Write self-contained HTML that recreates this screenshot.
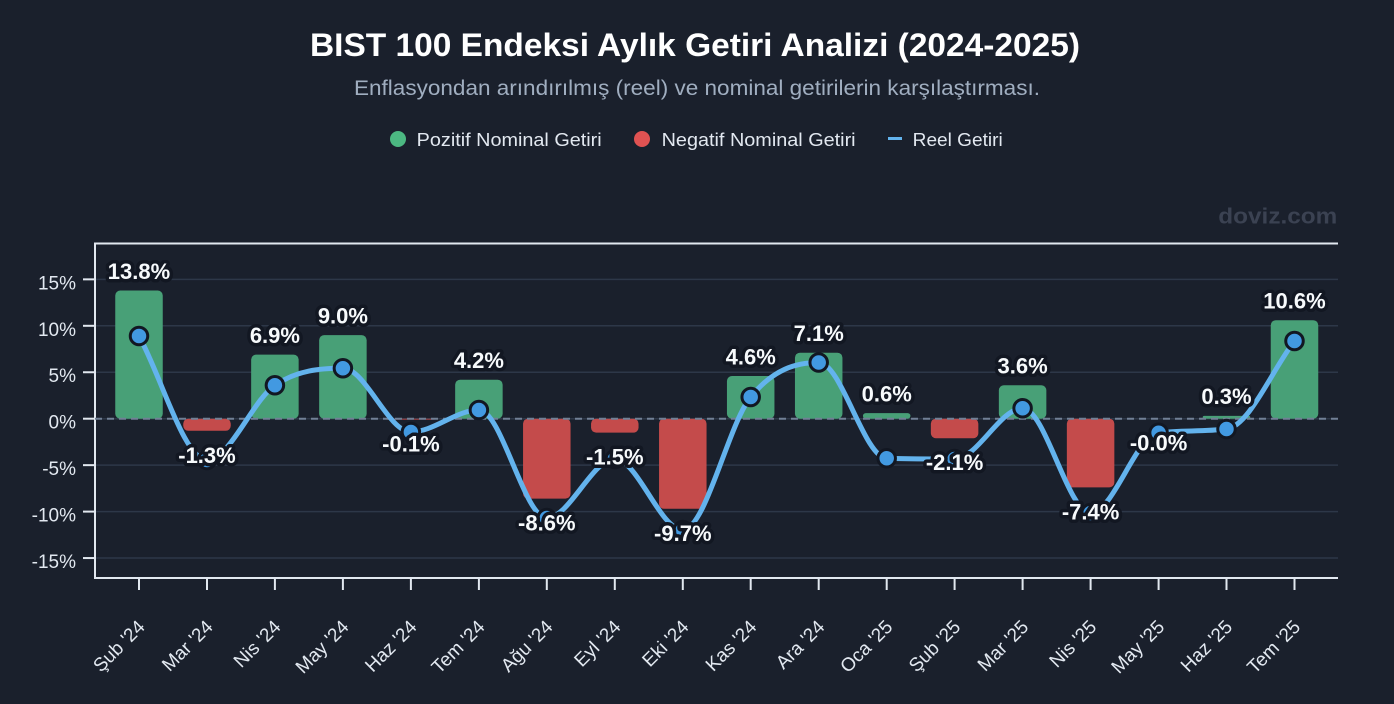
<!DOCTYPE html>
<html>
<head>
<meta charset="utf-8">
<style>
  html,body{margin:0;padding:0;background:#1a202c;}
  svg{display:block;}
  text{font-family:"Liberation Sans", sans-serif;}
  .yl{font-size:19px;fill:#e2e8f0;text-anchor:end;}
  .xl{font-size:19px;fill:#e2e8f0;text-anchor:end;}
  .dl{font-size:22px;font-weight:bold;fill:#f7fafc;text-anchor:middle;paint-order:stroke;stroke:#121722;stroke-width:7px;stroke-linejoin:round;}
</style>
</head>
<body>
<svg width="1394" height="704" viewBox="0 0 1394 704" xmlns="http://www.w3.org/2000/svg">
  <rect x="0" y="0" width="1394" height="704" fill="#1a202c"/>

  <!-- Title -->
  <text x="310" y="56" font-size="32" font-weight="bold" fill="#ffffff" textLength="770" lengthAdjust="spacingAndGlyphs">BIST 100 Endeksi Aylık Getiri Analizi (2024-2025)</text>
  <text x="354" y="95" font-size="21" fill="#a0aec0" textLength="686" lengthAdjust="spacingAndGlyphs">Enflasyondan arındırılmış (reel) ve nominal getirilerin karşılaştırması.</text>

  <!-- Legend -->
  <circle cx="398" cy="139" r="8" fill="#4cb882"/>
  <text x="416.7" y="146" font-size="18.5" fill="#e2e8f0" textLength="185" lengthAdjust="spacingAndGlyphs">Pozitif Nominal Getiri</text>
  <circle cx="642" cy="139" r="8" fill="#e05252"/>
  <text x="661.6" y="146" font-size="18.5" fill="#e2e8f0" textLength="194" lengthAdjust="spacingAndGlyphs">Negatif Nominal Getiri</text>
  <rect x="888" y="137" width="14" height="3" fill="#63b3ed"/>
  <text x="912.7" y="146" font-size="18.5" fill="#e2e8f0" textLength="90" lengthAdjust="spacingAndGlyphs">Reel Getiri</text>

  <!-- Watermark -->
  <text x="1218.3" y="223.3" font-size="22" font-weight="bold" fill="#3b4252" textLength="119" lengthAdjust="spacingAndGlyphs">doviz.com</text>

  <!-- Gridlines -->
  <g stroke="#2d3748" stroke-width="1.5">
    <line x1="95" y1="279.35" x2="1338" y2="279.35"/>
    <line x1="95" y1="325.8" x2="1338" y2="325.8"/>
    <line x1="95" y1="372.25" x2="1338" y2="372.25"/>
    <line x1="95" y1="418.7" x2="1338" y2="418.7"/>
    <line x1="95" y1="465.15" x2="1338" y2="465.15"/>
    <line x1="95" y1="511.6" x2="1338" y2="511.6"/>
    <line x1="95" y1="558.05" x2="1338" y2="558.05"/>
  </g>

  <!-- Axes -->
  <g stroke="#e2e8f0" stroke-width="2">
    <line x1="95" y1="243.5" x2="1338" y2="243.5"/>
    <line x1="95" y1="242.5" x2="95" y2="579"/>
    <line x1="94" y1="578" x2="1338" y2="578"/>
    <line x1="83" y1="279.35" x2="95" y2="279.35"/>
    <line x1="83" y1="325.8" x2="95" y2="325.8"/>
    <line x1="83" y1="372.25" x2="95" y2="372.25"/>
    <line x1="83" y1="418.7" x2="95" y2="418.7"/>
    <line x1="83" y1="465.15" x2="95" y2="465.15"/>
    <line x1="83" y1="511.6" x2="95" y2="511.6"/>
    <line x1="83" y1="558.05" x2="95" y2="558.05"/>
    <line x1="139" y1="578" x2="139" y2="590"/>
    <line x1="207" y1="578" x2="207" y2="590"/>
    <line x1="274.9" y1="578" x2="274.9" y2="590"/>
    <line x1="342.9" y1="578" x2="342.9" y2="590"/>
    <line x1="410.9" y1="578" x2="410.9" y2="590"/>
    <line x1="478.9" y1="578" x2="478.9" y2="590"/>
    <line x1="546.8" y1="578" x2="546.8" y2="590"/>
    <line x1="614.8" y1="578" x2="614.8" y2="590"/>
    <line x1="682.8" y1="578" x2="682.8" y2="590"/>
    <line x1="750.7" y1="578" x2="750.7" y2="590"/>
    <line x1="818.7" y1="578" x2="818.7" y2="590"/>
    <line x1="886.7" y1="578" x2="886.7" y2="590"/>
    <line x1="954.6" y1="578" x2="954.6" y2="590"/>
    <line x1="1022.6" y1="578" x2="1022.6" y2="590"/>
    <line x1="1090.6" y1="578" x2="1090.6" y2="590"/>
    <line x1="1158.6" y1="578" x2="1158.6" y2="590"/>
    <line x1="1226.5" y1="578" x2="1226.5" y2="590"/>
    <line x1="1294.5" y1="578" x2="1294.5" y2="590"/>
  </g>

  <!-- Y labels -->
  <text class="yl" x="76" y="289.3">15%</text>
  <text class="yl" x="76" y="335.8">10%</text>
  <text class="yl" x="76" y="382.2">5%</text>
  <text class="yl" x="76" y="428.7">0%</text>
  <text class="yl" x="76" y="475.1">-5%</text>
  <text class="yl" x="76" y="521.6">-10%</text>
  <text class="yl" x="76" y="568">-15%</text>

  <!-- X labels -->
  <text class="xl" transform="translate(146,628) rotate(-45)">Şub '24</text>
  <text class="xl" transform="translate(214,628) rotate(-45)">Mar '24</text>
  <text class="xl" transform="translate(281.9,628) rotate(-45)">Nis '24</text>
  <text class="xl" transform="translate(349.9,628) rotate(-45)">May '24</text>
  <text class="xl" transform="translate(417.9,628) rotate(-45)">Haz '24</text>
  <text class="xl" transform="translate(485.9,628) rotate(-45)">Tem '24</text>
  <text class="xl" transform="translate(553.8,628) rotate(-45)">Ağu '24</text>
  <text class="xl" transform="translate(621.8,628) rotate(-45)">Eyl '24</text>
  <text class="xl" transform="translate(689.8,628) rotate(-45)">Eki '24</text>
  <text class="xl" transform="translate(757.7,628) rotate(-45)">Kas '24</text>
  <text class="xl" transform="translate(825.7,628) rotate(-45)">Ara '24</text>
  <text class="xl" transform="translate(893.7,628) rotate(-45)">Oca '25</text>
  <text class="xl" transform="translate(961.6,628) rotate(-45)">Şub '25</text>
  <text class="xl" transform="translate(1029.6,628) rotate(-45)">Mar '25</text>
  <text class="xl" transform="translate(1097.6,628) rotate(-45)">Nis '25</text>
  <text class="xl" transform="translate(1165.6,628) rotate(-45)">May '25</text>
  <text class="xl" transform="translate(1233.5,628) rotate(-45)">Haz '25</text>
  <text class="xl" transform="translate(1301.5,628) rotate(-45)">Tem '25</text>

  <!-- Bars -->
  <g>
    <rect x="115.25" y="290.5" width="47.5" height="128.2" rx="5" fill="#48a077"/>
    <rect x="183.25" y="418.7" width="47.5" height="12.1" rx="5" fill="#c44b4b"/>
    <rect x="251.15" y="354.6" width="47.5" height="64.1" rx="5" fill="#48a077"/>
    <rect x="319.15" y="335.1" width="47.5" height="83.6" rx="5" fill="#48a077"/>
    <rect x="387.15" y="418.7" width="47.5" height="0.93" rx="0.4" fill="#c44b4b"/>
    <rect x="455.15" y="379.7" width="47.5" height="39.0" rx="5" fill="#48a077"/>
    <rect x="523.05" y="418.7" width="47.5" height="79.9" rx="5" fill="#c44b4b"/>
    <rect x="591.05" y="418.7" width="47.5" height="13.9" rx="5" fill="#c44b4b"/>
    <rect x="659.05" y="418.7" width="47.5" height="90.1" rx="5" fill="#c44b4b"/>
    <rect x="726.95" y="376.0" width="47.5" height="42.7" rx="5" fill="#48a077"/>
    <rect x="794.95" y="352.7" width="47.5" height="66.0" rx="5" fill="#48a077"/>
    <rect x="862.95" y="413.1" width="47.5" height="5.6" rx="2.8" fill="#48a077"/>
    <rect x="930.85" y="418.7" width="47.5" height="19.5" rx="5" fill="#c44b4b"/>
    <rect x="998.85" y="385.3" width="47.5" height="33.4" rx="5" fill="#48a077"/>
    <rect x="1066.85" y="418.7" width="47.5" height="68.7" rx="5" fill="#c44b4b"/>
    <rect x="1202.75" y="415.9" width="47.5" height="2.8" rx="1.4" fill="#48a077"/>
    <rect x="1270.75" y="320.2" width="47.5" height="98.5" rx="5" fill="#48a077"/>
  </g>

  <!-- Zero dashed line -->
  <line x1="95" y1="418.7" x2="1338" y2="418.7" stroke="#718096" stroke-width="2" stroke-dasharray="7 5"/>

  <!-- Reel line -->
  <path d="M139,336 C161.7,377.3 184.3,460 207,460 C229.7,460 252.3,400.6 274.9,385.3 C297.6,370 320.3,368.3 342.9,368.3 C365.6,368.3 388.2,432 410.9,432 C433.6,432 456.2,410 478.9,410 C501.6,410 524.2,518 546.8,518 C569.5,518 592.2,459 614.8,459 C637.5,459 660.1,530 682.8,530 C705.5,530 728.1,424.9 750.7,397 C773.4,369.1 796,362.5 818.7,362.5 C841.4,362.5 864,457.6 886.7,458.3 C909.4,459 932,459 954.6,459 C977.3,459 1000,408.3 1022.6,408.3 C1045.3,408.3 1067.9,513 1090.6,513 C1113.3,513 1135.9,435.2 1158.6,432.7 C1181.2,430.2 1203.8,431.7 1226.5,429 C1249.2,426.3 1271.8,370.3 1294.5,341" fill="none" stroke="#63b3ed" stroke-width="5" stroke-linecap="round" stroke-linejoin="round"/>

  <!-- Points -->
  <g fill="#4299e1" stroke="#121722" stroke-width="3">
    <circle cx="139" cy="336" r="8.75"/>
    <circle cx="207" cy="460" r="8.75"/>
    <circle cx="274.9" cy="385.3" r="8.75"/>
    <circle cx="342.9" cy="368.3" r="8.75"/>
    <circle cx="410.9" cy="432" r="8.75"/>
    <circle cx="478.9" cy="410" r="8.75"/>
    <circle cx="546.8" cy="518" r="8.75"/>
    <circle cx="614.8" cy="459" r="8.75"/>
    <circle cx="682.8" cy="530" r="8.75"/>
    <circle cx="750.7" cy="397" r="8.75"/>
    <circle cx="818.7" cy="362.5" r="8.75"/>
    <circle cx="886.7" cy="458.3" r="8.75"/>
    <circle cx="954.6" cy="459" r="8.75"/>
    <circle cx="1022.6" cy="408.3" r="8.75"/>
    <circle cx="1090.6" cy="513" r="8.75"/>
    <circle cx="1158.6" cy="432.7" r="8.75"/>
    <circle cx="1226.5" cy="429" r="8.75"/>
    <circle cx="1294.5" cy="341" r="8.75"/>
  </g>

  <!-- Data labels -->
  <text class="dl" x="139" y="278.8">13.8%</text>
  <text class="dl" x="207" y="462.8">-1.3%</text>
  <text class="dl" x="274.9" y="342.9">6.9%</text>
  <text class="dl" x="342.9" y="323.4">9.0%</text>
  <text class="dl" x="410.9" y="451.6">-0.1%</text>
  <text class="dl" x="478.9" y="368">4.2%</text>
  <text class="dl" x="546.8" y="530.6">-8.6%</text>
  <text class="dl" x="614.8" y="464.6">-1.5%</text>
  <text class="dl" x="682.8" y="540.8">-9.7%</text>
  <text class="dl" x="750.7" y="364.3">4.6%</text>
  <text class="dl" x="818.7" y="341">7.1%</text>
  <text class="dl" x="886.7" y="401.4">0.6%</text>
  <text class="dl" x="954.6" y="470.2">-2.1%</text>
  <text class="dl" x="1022.6" y="373.6">3.6%</text>
  <text class="dl" x="1090.6" y="519.4">-7.4%</text>
  <text class="dl" x="1158.6" y="450.7">-0.0%</text>
  <text class="dl" x="1226.5" y="404.2">0.3%</text>
  <text class="dl" x="1294.5" y="308.5">10.6%</text>
</svg>
</body>
</html>
